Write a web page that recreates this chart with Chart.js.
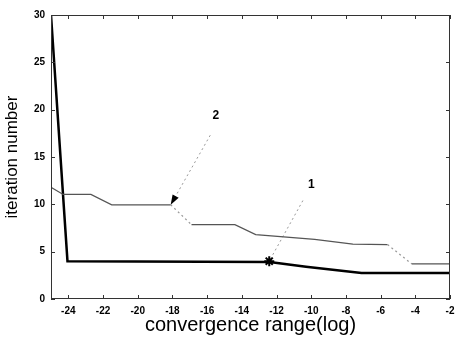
<!DOCTYPE html>
<html>
<head>
<meta charset="utf-8">
<script src="https://cdn.jsdelivr.net/npm/chart.js@4"></script>
<style>
  body { margin: 0; background: #fff; }
</style>
</head>
<body>
<canvas id="graph" width="457" height="337"></canvas>
<script>
// Courbe 1 (trait épais)
const curve1X = [-25, -24.05, -12.4, -10.3, -7.1, -2];
const curve1Y = [30, 4.0, 3.9, 3.4, 2.75, 2.75];

// Courbe 2 (trait fin)
const curve2X = [-25, -24.3, -22.7, -21.5, -18.1, -16.9, -14.4, -13.2, -9.8, -7.6, -5.6, -4.2, -2];
const curve2Y = [11.8, 11.05, 11.05, 9.95, 9.95, 7.85, 7.85, 6.8, 6.3, 5.8, 5.75, 3.7, 3.7];
// segments pâles (index du point de départ)
const curve2Faint = [4, 10];

// Graduations
const xTicks = [-24, -22, -20, -18, -16, -14, -12, -10, -8, -6, -4, -2];
const yTicks = [0, 5, 10, 15, 20, 25, 30];

// Repères "1" et "2"
const markLabels = ['1', '2'];
const markLabelX = [-10.0, -15.5];
const markLabelY = [12.1, 19.4];
const leader1X = [-10.48, -12.42];
const leader1Y = [10.4, 4.0];
const leader2X = [-15.82, -18.1];
const leader2Y = [17.3, 9.95];

const toPoints = (xs, ys) => xs.map((x, i) => ({ x: x, y: ys[i] }));

// Cadre, graduations internes, flèche et étiquettes
const framePlugin = {
    id: 'frame',
    afterDatasetsDraw(chart) {
        const { ctx, chartArea: a, scales } = chart;
        ctx.save();
        ctx.strokeStyle = '#333';
        ctx.lineWidth = 1;
        ctx.strokeRect(a.left + 0.5, a.top + 0.5, a.right - a.left - 1, a.bottom - a.top - 1);
        ctx.beginPath();
        xTicks.forEach(v => {
            const px = Math.round(scales.x.getPixelForValue(v)) + 0.5;
            ctx.moveTo(px, a.bottom); ctx.lineTo(px, a.bottom - 4);
            ctx.moveTo(px, a.top); ctx.lineTo(px, a.top + 4);
        });
        yTicks.forEach(v => {
            const py = Math.round(scales.y.getPixelForValue(v)) + 0.5;
            ctx.moveTo(a.left, py); ctx.lineTo(a.left + 4, py);
            ctx.moveTo(a.right, py); ctx.lineTo(a.right - 4, py);
        });
        ctx.stroke();

        // pointe de flèche au bout du repère 2
        const x0 = scales.x.getPixelForValue(leader2X[0]), y0 = scales.y.getPixelForValue(leader2Y[0]);
        const x1 = scales.x.getPixelForValue(leader2X[1]), y1 = scales.y.getPixelForValue(leader2Y[1]);
        const ang = Math.atan2(y1 - y0, x1 - x0);
        const len = 10, half = 3.5;
        const bx = x1 - Math.cos(ang) * len, by = y1 - Math.sin(ang) * len;
        ctx.fillStyle = '#000';
        ctx.beginPath();
        ctx.moveTo(x1, y1);
        ctx.lineTo(bx - Math.sin(ang) * half, by + Math.cos(ang) * half);
        ctx.lineTo(bx + Math.sin(ang) * half, by - Math.cos(ang) * half);
        ctx.closePath();
        ctx.fill();

        ctx.font = 'bold 12px "Liberation Sans", Arial, sans-serif';
        ctx.textAlign = 'center';
        ctx.textBaseline = 'middle';
        markLabels.forEach((t, i) => {
            ctx.fillText(t, scales.x.getPixelForValue(markLabelX[i]), scales.y.getPixelForValue(markLabelY[i]));
        });
        ctx.restore();
    }
};

const tickFont = { family: '"Liberation Sans", Arial, sans-serif', size: 10, weight: 'bold' };

new Chart(document.getElementById('graph'), {
    type: 'scatter',
    data: {
        datasets: [{
            data: toPoints(curve2X, curve2Y),
            showLine: true,
            borderColor: '#555',
            borderWidth: 1.2,
            pointRadius: 0,
            segment: {
                borderDash: c => curve2Faint.includes(c.p0DataIndex) ? [2, 3] : undefined,
                borderColor: c => curve2Faint.includes(c.p0DataIndex) ? '#999' : undefined
            }
        }, {
            data: toPoints(curve1X, curve1Y),
            showLine: true,
            borderColor: '#000',
            borderWidth: 2.5,
            pointRadius: 0
        }, {
            data: toPoints(leader1X, leader1Y),
            showLine: true,
            borderColor: '#999',
            borderWidth: 1,
            borderDash: [2, 3],
            pointRadius: [0, 5],
            pointStyle: 'star',
            pointBorderColor: '#000',
            pointBorderWidth: 2
        }, {
            data: toPoints(leader2X, leader2Y),
            showLine: true,
            borderColor: '#999',
            borderWidth: 1,
            borderDash: [2, 3],
            pointRadius: 0
        }]
    },
    options: {
        responsive: false,
        animation: false,
        layout: { padding: { top: 15, right: 1, left: 0, bottom: 0 } },
        plugins: {
            legend: { display: false },
            tooltip: { enabled: false }
        },
        scales: {
            x: {
                type: 'linear',
                min: -25,
                max: -2,
                afterBuildTicks: s => { s.ticks = xTicks.map(v => ({ value: v })); },
                afterFit: s => { s.height = 38; s.paddingLeft = 0; s.paddingRight = 0; },
                grid: { display: false, drawTicks: false },
                border: { display: false },
                ticks: { padding: 6, color: '#000', font: tickFont, maxRotation: 0 },
                title: {
                    display: true,
                    text: 'convergence range(log)',
                    color: '#000',
                    font: { family: '"Liberation Sans", Arial, sans-serif', size: 20 },
                    padding: { top: 0, bottom: 0 }
                }
            },
            y: {
                min: 0,
                max: 30,
                afterBuildTicks: s => { s.ticks = yTicks.map(v => ({ value: v })); },
                afterFit: s => { s.width = 51; s.paddingTop = 0; s.paddingBottom = 0; },
                grid: { display: false, drawTicks: false },
                border: { display: false },
                ticks: { padding: 6, color: '#000', font: tickFont },
                title: {
                    display: true,
                    text: 'iteration number',
                    color: '#000',
                    font: { family: '"Liberation Sans", Arial, sans-serif', size: 17 },
                    padding: { top: 2, bottom: 0 }
                }
            }
        }
    },
    plugins: [framePlugin]
});
</script>
</body>
</html>
